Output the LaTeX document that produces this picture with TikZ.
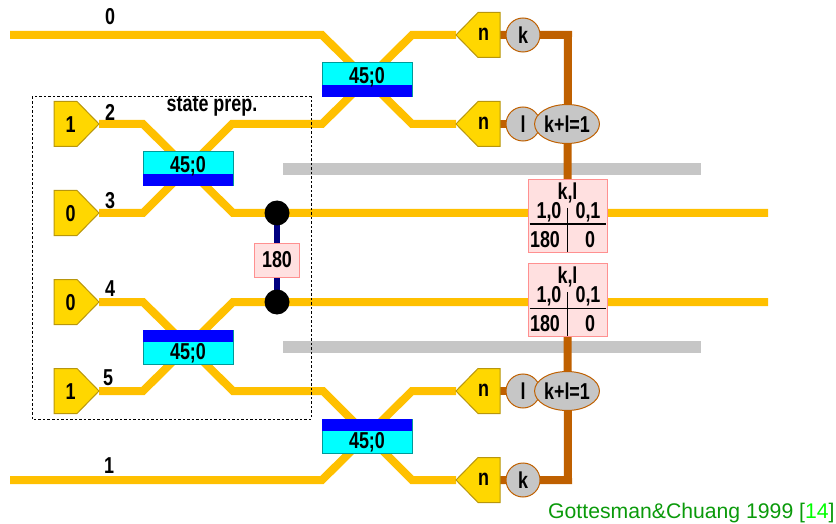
\documentclass[tikz,border=0pt]{standalone}
\usepackage{fontspec}
\usetikzlibrary{shapes.geometric}
\newfontfamily\labf[FakeStretch=0.78]{Liberation Sans}
\newfontfamily\credf{Liberation Sans}
\definecolor{beamc}{HTML}{FFC000}
\definecolor{brownc}{HTML}{BF6000}
\definecolor{goldc}{HTML}{FFD700}
\definecolor{goldb}{HTML}{B8960C}
\definecolor{greyc}{HTML}{C6C6C6}
\definecolor{pinkc}{HTML}{FFE0E0}
\definecolor{pinkb}{HTML}{FF9090}
\definecolor{tealc}{HTML}{009999}
\definecolor{credc}{HTML}{0A9A0A}
\definecolor{cyanc}{HTML}{00FFFF}
\definecolor{bluec}{HTML}{0000FF}
\definecolor{navyc}{HTML}{000080}
\definecolor{brightg}{HTML}{00FF00}
\tikzset{
  lab/.style={inner sep=0pt,font=\labf\bfseries\fontsize{23}{23}\selectfont},
  beam/.style={line width=8pt,beamc},
  brownline/.style={line width=8pt,brownc},
  ctrlline/.style={line width=6pt,navyc},
  bar/.style={fill=greyc,draw=none},
  gold/.style={fill=goldc,draw=goldb,line width=1pt},
  gcirc/.style={circle,fill=greyc,draw=brownc,line width=1pt,minimum size=34pt,inner sep=0pt},
  gell/.style={ellipse,fill=greyc,draw=brownc,line width=1pt,minimum width=52pt,minimum height=39pt,inner sep=0pt},
  pinkbox/.style={rectangle,fill=pinkc,draw=pinkb,line width=1pt,inner sep=0pt},
  cbox/.style={rectangle,fill=cyanc,draw=tealc,line width=1pt,minimum width=90pt,minimum height=34pt,inner sep=0pt},
  dot/.style={circle,fill=black,draw=none,minimum size=25pt,inner sep=0pt},
}
\newcommand{\srcL}[3]{%
  \draw[gold] (54,#2-22.5) -- (77,#2-22.5) -- (99,#2) -- (77,#2+22.5) -- (54,#2+22.5) -- cycle;
  \node[lab] (#1) at (70.5,#2+1) {#3};}
\newcommand{\detR}[2]{%
  \draw[gold] (456,#2) -- (478,#2-22.5) -- (500,#2-22.5) -- (500,#2+22.5) -- (478,#2+22.5) -- cycle;
  \node[lab] (#1) at (483.5,#2-1) {n};}
\newcommand{\bsUp}[3]{%
  \node[cbox] (#1) at (#2,#3) {};
  \fill[bluec] (#2-45,#3+5.5) rectangle (#2+45,#3+17.5);
  \node[lab] (#1t) at (#2,#3-3) {45;0};}
\newcommand{\bsDn}[3]{%
  \node[cbox] (#1) at (#2,#3) {};
  \fill[bluec] (#2-45,#3-17.5) rectangle (#2+45,#3-5.5);
  \node[lab] (#1t) at (#2,#3+6) {45;0};}
\newcommand{\tbl}[2]{%
  \node[pinkbox,minimum width=79pt,minimum height=72.5pt] (#1) at (567.5,#2+36) {};
  \draw[line width=1pt] (529.5,#2+44) -- (606,#2+44);
  \draw[line width=1.2pt] (567.5,#2+28) -- (567.5,#2+72);
  \node[lab] (#1a) at (567.5,#2+13) {k,l};
  \node[lab] (#1b) at (549,#2+32) {1,0};
  \node[lab] (#1c) at (588,#2+32) {0,1};
  \node[lab] (#1d) at (545,#2+60) {180};
  \node[lab] (#1e) at (590,#2+60) {0};}
\begin{document}
\begin{tikzpicture}[x=1pt,y=-1pt]
\useasboundingbox (0,0) rectangle (836,524);
\fill[bar] (283,163) rectangle (701,175);
\fill[bar] (283,341) rectangle (701,353);
\coordinate (in0) at (10,35);
\coordinate (in1) at (10,480);
\coordinate (out1) at (768,213);
\coordinate (out2) at (768,302);
\coordinate (dot1) at (277,213);
\coordinate (dot2) at (277,302);
\coordinate (tblA) at (567.5,216);
\coordinate (tblB) at (567.5,300);
\coordinate (brA) at (568,35);
\coordinate (brB) at (568,480);
\coordinate (kA) at (523,35);
\coordinate (kB) at (523,480);
\coordinate (lA) at (523,124);
\coordinate (lB) at (523,391);
\coordinate (sA) at (99,124);
\coordinate (sB) at (99,213);
\coordinate (sC) at (99,302);
\coordinate (sD) at (99,391);
\coordinate (dA) at (456,35);
\coordinate (dB) at (456,124);
\coordinate (dC) at (456,391);
\coordinate (dD) at (456,480);
\draw[beam] (in0) -- (322,35) -- (412,124) -- (dB);
\draw[beam] (sA) -- (143,124) -- (233,213) -- (dot1) -- (out1);
\draw[beam] (sB) -- (143,213) -- (232,124) -- (322,124) -- (412,35) -- (dA);
\draw[beam] (sC) -- (143,302) -- (233,391) -- (323,391) -- (412,480) -- (dD);
\draw[beam] (sD) -- (143,391) -- (233,302) -- (dot2) -- (out2);
\draw[beam] (in1) -- (322,480) -- (412,391) -- (dC);
\draw[brownline] (dA) ++(44,0) -- (brA) -- (tblA);
\draw[brownline] (dB) ++(44,0) -- (lA) -- (567.5,124);
\draw[brownline] (dD) ++(44,0) -- (brB) -- (tblB);
\draw[brownline] (dC) ++(44,0) -- (lB) -- (567.5,391);
\draw[ctrlline] (dot1) -- (dot2);
\srcL{s1}{124}{1}
\srcL{s2}{213}{0}
\srcL{s3}{302}{0}
\srcL{s4}{391}{1}
\detR{n1}{35}
\detR{n2}{124}
\detR{n3}{391}
\detR{n4}{480}
\bsUp{bA}{367}{80}
\bsUp{bB}{188}{169}
\bsDn{bC}{188}{347}
\bsDn{bD}{367}{436}
\node[dot] (d1) at (dot1) {};
\node[dot] (d2) at (dot2) {};
\node[pinkbox,minimum width=45pt,minimum height=34pt,lab] (ph) at (277,260) {180};
\node[gcirc,lab] (ck1) at (kA) {k};
\node[gcirc,lab] (cl1) at (lA) {l};
\node[gcirc,lab] (cl2) at (lB) {l};
\node[gcirc,lab] (ck2) at (kB) {k};
\node[gell,lab] (e1) at (567,124) {k+l=1};
\node[gell,lab] (e2) at (567,391) {k+l=1};
\tbl{ta}{180}
\tbl{tb}{264}
\node[lab] (l0) at (110,17) {0};
\node[lab] (l1) at (109,466) {1};
\node[lab] (l2) at (110,112) {2};
\node[lab] (l3) at (110,201) {3};
\node[lab] (l4) at (110,289) {4};
\node[lab] (l5) at (108,378) {5};
\node[lab] (sp) at (212,106) {state prep.};
\draw[dash pattern=on 2.5pt off 2pt,line width=1pt] (32,97) rectangle (311,419);
\node[anchor=base west,inner sep=0pt,font=\credf\fontsize{21.2}{21.2}\selectfont,text=credc] (cred) at (548,518)
  {Gottesman\&Chuang 1999 [\textcolor{brightg}{14}]};
\end{tikzpicture}
\end{document}
